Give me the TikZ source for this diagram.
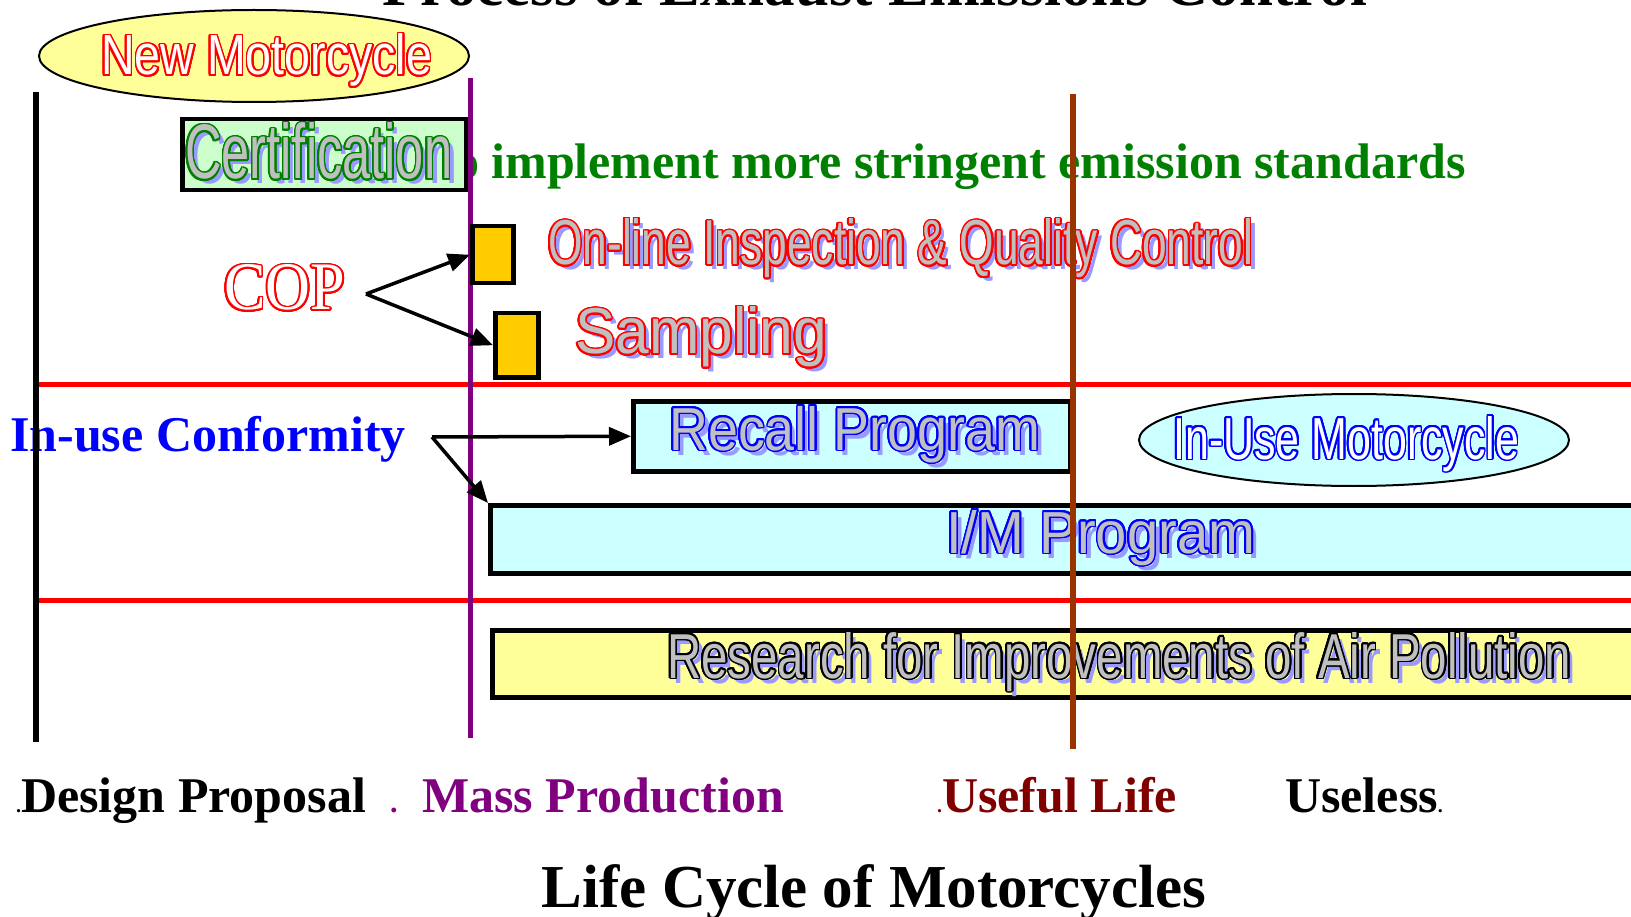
\documentclass[tikz,border=0pt]{standalone}
\usepackage{fontspec}
\setmainfont{Liberation Serif}
\newfontfamily\sansf{Liberation Sans}
\usepackage{graphicx}
\usepackage{contour}
\usetikzlibrary{arrows.meta}
\definecolor{shade}{HTML}{9999FF}
\definecolor{fillgray}{HTML}{C0C0C0}
\definecolor{certgreen}{HTML}{008000}
\definecolor{pyellow}{HTML}{FFFF99}
\definecolor{pcyan}{HTML}{CCFFFF}
\definecolor{pgreen}{HTML}{CCFFCC}
\definecolor{porange}{HTML}{FFCC00}
\definecolor{lpurple}{HTML}{800080}
\definecolor{lbrown}{HTML}{993300}
\definecolor{dred}{HTML}{800000}
\definecolor{pblue}{HTML}{0000FF}
\definecolor{pred}{HTML}{FF0000}
\contourlength{1.7pt}
\contournumber{24}
% #1 width, #2 height, #3 outline colour, #4 fill colour, #5 text
\newcommand\otext[5]{\makebox[0pt][l]{\hspace*{5pt}\raisebox{-5pt}{\textcolor{shade}{\resizebox{#1}{#2}{#5}}}}{\color{#4}\contour{#3}{\resizebox{#1}{#2}{#5}}}}
\newcommand\plaintext[5]{{\color{#4}\contour{#3}{\resizebox{#1}{#2}{#5}}}}
\tikzset{
  box/.style={draw=black, line width=4.5pt, inner sep=0pt, anchor=north west},
  txt/.style={inner sep=0pt, anchor=base west},
  bigsans/.style={font=\sansf\fontsize{60pt}{60pt}\selectfont},
  bold49/.style={font=\fontsize{50pt}{50pt}\selectfont\bfseries},
  bold60/.style={font=\fontsize{61pt}{61pt}\selectfont\bfseries},
  arr/.style={line width=3.5pt, -{Triangle[length=22pt,width=18pt]}},
  vline/.style={line width=5.5pt},
  hline/.style={line width=5pt, pred},
}
\begin{document}
\begin{tikzpicture}[x=1pt,y=-1pt]
\useasboundingbox (0,0) rectangle (1631,917);
\clip (0,0) rectangle (1631,917);
\fill[white] (0,0) rectangle (1631,917);
% title (cut off at top)
\node[bold60, inner sep=0pt, anchor=base] (title) at (875,6) {Process of Exhaust Emissions Control};
% green text
\node[bold49, txt, text=certgreen] (stricter) at (425,179) {To implement more stringent emission standards};
% new motorcycle ellipse
\draw[fill=pyellow, line width=2pt] (254,56) ellipse [x radius=215, y radius=46];
\node[bigsans, txt] (newmc) at (101,75) {\plaintext{331pt}{41pt}{pred}{white}{New Motorcycle}};
% red horizontal lines
\draw[hline] (37,384) coordinate (h1a) -- (1631,384) coordinate (h1b);
\draw[hline] (33,600) coordinate (h2a) -- (1631,600) coordinate (h2b);
% certification
\node[box, fill=pgreen, minimum width=284pt, minimum height=71pt] (certbox) at (180,117) {};
\node[bigsans, txt] (cert) at (185,179) {\otext{267pt}{56pt}{certgreen}{fillgray}{Certification}};
% recall, I/M, research
\node[box, fill=pcyan, minimum width=437pt, minimum height=70pt] (recall) at (631,399) {};
\node[bigsans, txt] (recalltxt) at (669,450) {\otext{371pt}{44pt}{pblue}{fillgray}{Recall Program}};
\node[box, fill=pcyan, minimum width=1158pt, minimum height=68pt] (imbox) at (488,503) {};
\node[bigsans, txt] (imtxt) at (946,553) {\otext{309pt}{43pt}{pblue}{fillgray}{I/M Program}};
\node[box, fill=pyellow, minimum width=1156pt, minimum height=67pt] (research) at (490,628) {};
\node[bigsans, txt] (researchtxt) at (667,678) {\otext{904pt}{46pt}{black}{fillgray}{Research for Improvements of Air Pollution}};
% in-use motorcycle ellipse
\draw[fill=pcyan, line width=2pt] (1354,440) ellipse [x radius=215, y radius=46];
\node[bigsans, txt] (inusemc) at (1173,459) {\plaintext{346pt}{43pt}{pblue}{white}{In-Use Motorcycle}};
% COP texts
\node[bigsans, txt] (online) at (548,265) {\otext{705pt}{46pt}{pred}{fillgray}{On-line Inspection \& Quality Control}};
\node[bigsans, txt] (sampling) at (575,354) {\otext{252pt}{47pt}{pred}{fillgray}{Sampling}};
\node[txt, font=\fontsize{60pt}{60pt}\selectfont] (cop) at (224,310) {\plaintext{121pt}{45pt}{pred}{white}{COP}};
\node[bold49, txt, text=pblue] (inuse) at (10,451) {In-use Conformity};
% vertical lines
\draw[vline, black] (36,92) coordinate (vba) -- (36,742) coordinate (vbb);
\draw[vline, lpurple, line width=5pt] (470,78) coordinate (vpa) -- (470,738) coordinate (vpb);
% orange boxes
\node[box, fill=porange, minimum width=41pt, minimum height=57pt] (or1) at (470,224) {};
\node[box, fill=porange, minimum width=43pt, minimum height=64pt] (or2) at (493,311) {};
% brown line
\draw[vline, lbrown] (1073,94) coordinate (vca) -- (1073,749) coordinate (vcb);
% arrows
\coordinate (copfork) at (366,294);
\coordinate (iufork) at (432,437);
\draw[arr] (copfork) -- (or1.west);
\draw[arr] (copfork) -- (or2.west);
\draw[arr] (iufork) -- (recall.west);
\draw[arr] (iufork) -- (imbox.north west);
% bottom labels
\node[bold49, txt] (design) at (16,812) {{\fontsize{20pt}{20pt}\selectfont.}Design Proposal};
\node[bold49, txt, text=lpurple] (massdot) at (390,812) {{\fontsize{30pt}{30pt}\selectfont.}};
\node[bold49, txt, text=lpurple] (mass) at (422,812) {Mass Production};
\node[bold49, txt, text=dred] (useful) at (937,812) {{\fontsize{20pt}{20pt}\selectfont.}Useful Life};
\node[bold49, txt] (useless) at (1285,812) {Useless{\fontsize{20pt}{20pt}\selectfont.}};
\node[bold60, inner sep=0pt, anchor=base] (lifecycle) at (874,907) {Life Cycle of Motorcycles};
\end{tikzpicture}
\end{document}
